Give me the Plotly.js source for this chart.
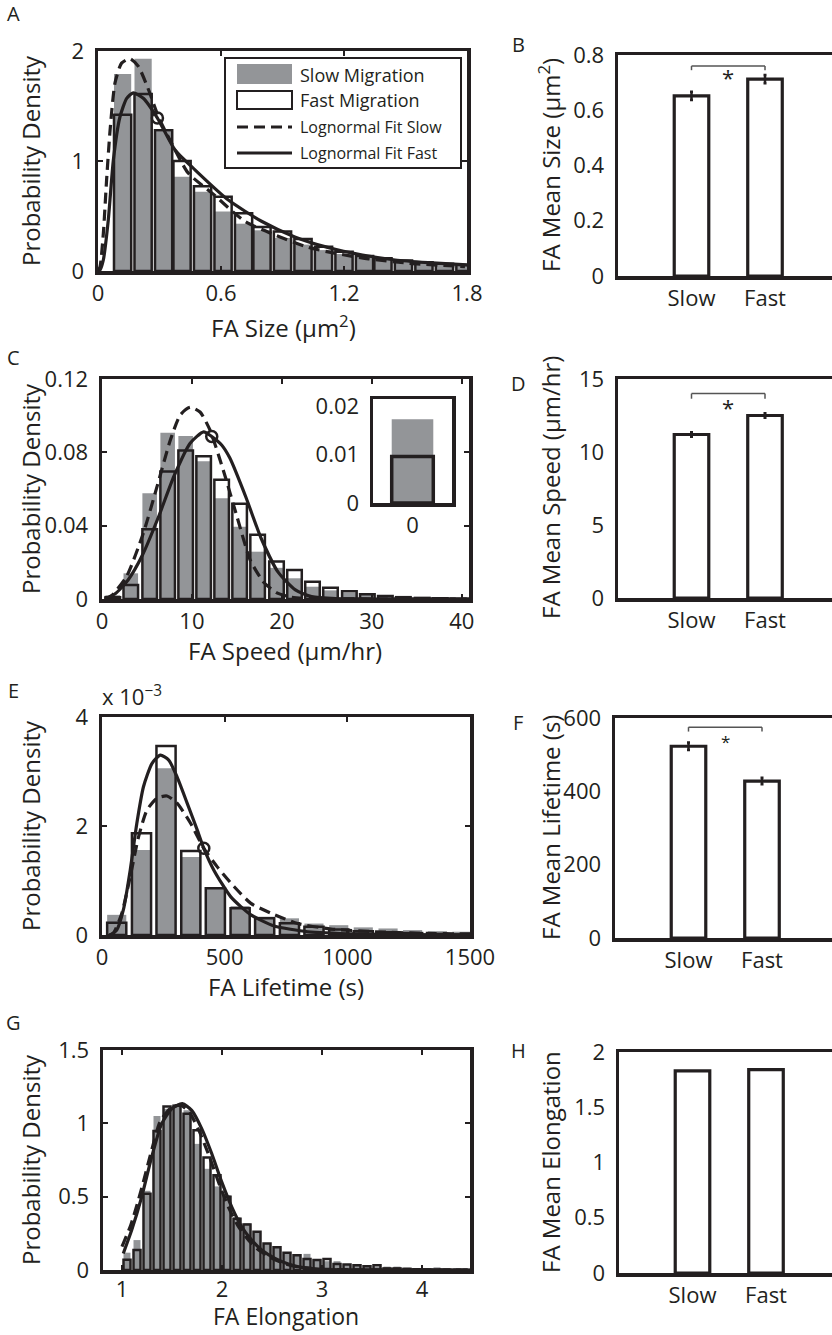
<!DOCTYPE html>
<html><head><meta charset="utf-8">
<script src="https://cdn.plot.ly/plotly-3.0.1.min.js"></script>
<style>html,body{margin:0;padding:0;background:#fff}</style>
</head><body><div id="chart" style="width:832px;height:1335px"></div>
<script>
// ---------- data ----------
const groups = ['Slow', 'Fast'];

// A: FA size histogram
const sizeBins = [0.12,0.22,0.32,0.41,0.51,0.61,0.71,0.80,0.90,1.00,1.10,1.20,1.30,1.39,1.49,1.59,1.69,1.79];
const sizeSlow = [1.79,1.93,1.27,0.857,0.72,0.54,0.43,0.37,0.30,0.24,0.19,0.155,0.13,0.11,0.09,0.075,0.065,0.055];
const sizeFast = [1.42,1.61,1.28,1.0,0.77,0.675,0.525,0.40,0.36,0.29,0.22,0.175,0.136,0.115,0.095,0.08,0.065,0.055];
const sizeFitSlowX = [0.0,0.01,0.026,0.042,0.059,0.083,0.115,0.156,0.197,0.246,0.295,0.351,0.44,0.555,0.717,0.847,1.026,1.16,1.32,1.52,1.79];
const sizeFitSlowY = [0,0.04,0.34,0.83,1.28,1.71,1.89,1.93,1.86,1.65,1.40,1.19,0.89,0.71,0.45,0.34,0.215,0.16,0.11,0.07,0.04];
const sizeFitFastX = [0.0,0.01,0.026,0.05,0.075,0.107,0.14,0.172,0.221,0.29,0.376,0.473,0.636,0.8,0.96,1.12,1.29,1.45,1.61,1.8];
const sizeFitFastY = [0,0.01,0.1,0.46,1.01,1.40,1.57,1.62,1.57,1.39,1.1,0.92,0.645,0.45,0.31,0.215,0.145,0.10,0.076,0.055];
const sizeMarkX = [0.29], sizeMarkY = [1.39];
// B
const sizeMean = [0.652, 0.713], sizeErr = [0.015, 0.015];

// C: FA speed histogram
const speedBins = [1.2,3.2,5.3,7.3,9.3,11.3,13.3,15.3,17.3,19.4,21.4,23.4,25.4,27.5,29.5,31.5,33.5,35.6,37.6,39.6];
const speedSlow = [0.002,0.014,0.0577,0.0907,0.0889,0.0752,0.0549,0.0394,0.0258,0.017,0.0113,0.0067,0.0047,0.0033,0.0022,0.0015,0.0009,0.0006,0.0004,0.0002];
const speedFast = [0.001,0.0076,0.038,0.0695,0.081,0.0778,0.065,0.052,0.035,0.0205,0.0158,0.0094,0.0062,0.0042,0.0026,0.0017,0.001,0.0006,0.0004,0.0002];
const speedFitSlowX = [0.3,0.9,2.7,4.6,6.1,7.6,8.7,9.8,10.9,12.0,13.5,15.0,16.5,18.0,19.4,21.0,23,30,40.8];
const speedFitSlowY = [0,0.001,0.012,0.036,0.061,0.0867,0.1004,0.1046,0.102,0.0922,0.070,0.045,0.021,0.009,0.0035,0.001,0.0002,0,0];
const speedFitFastX = [0.3,1.5,2.9,4.5,6.3,8.0,9.8,11.3,12.2,13.3,14.2,16.0,17.7,19.6,21.5,23.3,26,30,40.8];
const speedFitFastY = [0,0.003,0.0104,0.024,0.045,0.067,0.085,0.0912,0.0886,0.084,0.077,0.0555,0.033,0.0145,0.005,0.0013,0.0002,0,0];
const speedMarkX = [12.2], speedMarkY = [0.0886];
const insetBin = [0], insetSlow = [0.0173], insetFast = [0.0096];
// D
const speedMean = [11.2, 12.5], speedErr = [0.15, 0.15];

// E: FA lifetime histogram (values in units of 10^-3)
const lifeBins = [60,161,261,362,462,563,663,764,864,965,1065,1166,1266,1367,1467];
const lifeSlow = [0.37,1.56,3.06,1.43,0.87,0.53,0.336,0.306,0.21,0.18,0.14,0.12,0.09,0.07,0.06];
const lifeFast = [0.226,1.866,3.47,1.54,0.86,0.49,0.306,0.214,0.153,0.1,0.07,0.05,0.035,0.02,0.01];
const lifeFitSlowX = [30,46,81,115,149,183,224,265,306,361,415,470,538,607,689,798,934,1112,1316,1500];
const lifeFitSlowY = [0,0.03,0.4,1.07,1.80,2.29,2.51,2.55,2.42,2.05,1.59,1.25,0.89,0.58,0.40,0.21,0.11,0.06,0.03,0.02];
const lifeFitFastX = [33,60,87,115,142,169,204,238,272,306,347,388,415,456,525,607,702,839,1044,1500];
const lifeFitFastY = [0,0.09,0.46,1.19,2.05,2.72,3.15,3.30,3.21,2.90,2.42,1.93,1.59,1.19,0.70,0.37,0.165,0.06,0.02,0];
const lifeMarkX = [415], lifeMarkY = [1.59];
// F
const lifeMean = [523, 428], lifeErr = [10, 9];

// G: FA elongation histogram
const elongBins = [1.05,1.15,1.25,1.35,1.45,1.55,1.65,1.75,1.85,1.95,2.05,2.15,2.25,2.35,2.45,2.55,2.65,2.75,2.85,2.95,3.05,3.15,3.25,3.35,3.45,3.55,3.65,3.75,3.85,3.95,4.05,4.15,4.25,4.35,4.45];
const elongSlow = [0.118,0.204,0.54,1.05,1.10,1.13,1.09,0.86,0.69,0.57,0.51,0.36,0.32,0.26,0.18,0.15,0.117,0.10,0.11,0.065,0.06,0.06,0.04,0.032,0.025,0.022,0.023,0.023,0.016,0.011,0.011,0.018,0.011,0.011,0.01];
const elongFast = [0.07,0.136,0.52,0.948,1.115,1.12,1.066,0.952,0.767,0.646,0.50,0.35,0.31,0.26,0.18,0.155,0.117,0.10,0.075,0.068,0.075,0.041,0.038,0.032,0.025,0.032,0.011,0.011,0.008,0.005,0.004,0.003,0.003,0.002,0.002];
const elongFitSlowX = [1.0,1.09,1.19,1.29,1.38,1.48,1.58,1.67,1.77,1.87,1.97,2.07,2.17,2.27,2.37,2.5,2.63,2.77,2.97,3.4,4.46];
const elongFitSlowY = [0.16,0.31,0.54,0.80,1.01,1.10,1.125,1.08,0.95,0.78,0.59,0.42,0.29,0.20,0.135,0.08,0.043,0.02,0.006,0.001,0];
const elongFitFastX = [1.013,1.097,1.197,1.297,1.397,1.497,1.603,1.697,1.797,1.897,1.997,2.097,2.197,2.297,2.397,2.53,2.663,2.797,2.997,3.39,4.46];
const elongFitFastY = [0.113,0.272,0.499,0.771,0.998,1.10,1.134,1.088,0.964,0.794,0.601,0.431,0.295,0.204,0.136,0.079,0.041,0.018,0.005,0.001,0];
// H
const elongMean = [1.83, 1.84];

// ---------- styling helpers ----------
const W = 832, H = 1335;
const px = v => v / W, py = v => 1 - v / H;
const INK = '#231f20', GRAY = '#939598';
const FONT = '"Open Sans", sans-serif';
const TF = {family: FONT, size: 22, color: INK};
const TITLE = 24;

function histX(l, r, t, b, range, tickvals, ticktext, anchor, standoff) {
  return {domain: [px(l), px(r)], range, tickvals, ticktext, anchor,
    ticks: 'inside', ticklen: 5, tickwidth: 2, tickcolor: INK, ticklabelstandoff: standoff || 0,
    showline: true, linewidth: 3.5, linecolor: INK, mirror: 'ticks',
    zeroline: false, showgrid: false, tickfont: TF, fixedrange: true};
}
function histY(t, b, range, tickvals, ticktext, anchor) {
  return {domain: [py(b), py(t)], range, tickvals, ticktext, anchor,
    ticks: 'inside', ticklen: 5, tickwidth: 2, tickcolor: INK, ticklabelstandoff: 6,
    showline: true, linewidth: 3.5, linecolor: INK, mirror: 'ticks',
    zeroline: false, showgrid: false, tickfont: TF, fixedrange: true};
}
function barX(l, anchor) {
  return {domain: [px(l), 1], type: 'category', range: [-1, (W - l) / 73.5 - 1], anchor,
    ticks: '', showline: true, linewidth: 3.5, linecolor: INK, mirror: true,
    ticklabelstandoff: 0, zeroline: false, showgrid: false, tickfont: TF, fixedrange: true};
}
function barY(t, b, range, tickvals, ticktext, anchor) {
  return {domain: [py(b), py(t)], range, tickvals, ticktext, anchor,
    ticks: '', showline: true, linewidth: 3.5, linecolor: INK, mirror: false,
    ticklabelstandoff: 6, zeroline: false, showgrid: false, tickfont: TF, fixedrange: true};
}

function histTraces(ax, bins, slow, fast, w, fsX, fsY, ffX, ffY, mX, mY, lw) {
  const xa = 'x' + ax, ya = 'y' + ax;
  const tr = [
    {type: 'bar', x: bins, y: slow, width: w, marker: {color: GRAY, line: {width: 0}}, xaxis: xa, yaxis: ya, hoverinfo: 'skip'},
    {type: 'bar', x: bins, y: fast, width: w, marker: {color: 'rgba(0,0,0,0)', line: {color: INK, width: lw}}, xaxis: xa, yaxis: ya, hoverinfo: 'skip'},
    {type: 'scatter', mode: 'lines', x: fsX, y: fsY, line: {color: INK, width: 3.2, dash: '11px,6px', shape: 'spline', smoothing: 0.6}, xaxis: xa, yaxis: ya, hoverinfo: 'skip'},
    {type: 'scatter', mode: 'lines', x: ffX, y: ffY, line: {color: INK, width: 3.2, shape: 'spline', smoothing: 0.6}, xaxis: xa, yaxis: ya, hoverinfo: 'skip'}
  ];
  if (mX) tr.push({type: 'scatter', mode: 'markers', x: mX, y: mY, marker: {symbol: 'circle-open', size: 11, color: INK, line: {width: 2.5, color: INK}}, xaxis: xa, yaxis: ya, hoverinfo: 'skip'});
  return tr;
}
function meanTrace(ax, vals, err) {
  const t = {type: 'bar', x: groups, y: vals, width: 0.47, marker: {color: 'white', line: {color: INK, width: 3.2}},
    xaxis: 'x' + ax, yaxis: 'y' + ax, hoverinfo: 'skip'};
  if (err) t.error_y = {type: 'data', array: err, visible: true, color: INK, thickness: 2.5, width: 1.5};
  return t;
}

const traces = [].concat(
  histTraces('', sizeBins, sizeSlow, sizeFast, 0.084, sizeFitSlowX, sizeFitSlowY, sizeFitFastX, sizeFitFastY, sizeMarkX, sizeMarkY, 2.5),
  [meanTrace('2', sizeMean, sizeErr)],
  histTraces('3', speedBins, speedSlow, speedFast, 1.62, speedFitSlowX, speedFitSlowY, speedFitFastX, speedFitFastY, speedMarkX, speedMarkY, 2.5),
  [meanTrace('4', speedMean, speedErr)],
  histTraces('5', lifeBins, lifeSlow, lifeFast, 78, lifeFitSlowX, lifeFitSlowY, lifeFitFastX, lifeFitFastY, lifeMarkX, lifeMarkY, 2.5),
  [meanTrace('6', lifeMean, lifeErr)],
  histTraces('7', elongBins, elongSlow, elongFast, 0.07, elongFitSlowX, elongFitSlowY, elongFitFastX, elongFitFastY, null, null, 2.5),
  [meanTrace('8', elongMean, null)],
  [
    {type: 'bar', x: insetBin, y: insetSlow, width: 1.0, marker: {color: GRAY, line: {width: 0}}, xaxis: 'x9', yaxis: 'y9', hoverinfo: 'skip'},
    {type: 'bar', x: insetBin, y: insetFast, width: 1.0, marker: {color: 'rgba(0,0,0,0)', line: {color: INK, width: 3.5}}, xaxis: 'x9', yaxis: 'y9', hoverinfo: 'skip'}
  ]
);

// ---------- annotations ----------
function txt(text, x, y, size, opts) {
  return Object.assign({text, x: px(x), y: py(y), xref: 'paper', yref: 'paper', showarrow: false,
    font: {family: FONT, size: size, color: INK}, xanchor: 'center', yanchor: 'middle'}, opts || {});
}
const ann = [
  txt('A', 13, 14, 20), txt('B', 518, 45, 20), txt('C', 13, 357, 20), txt('D', 518, 383, 20),
  txt('E', 13, 690, 20), txt('F', 518, 722, 20), txt('G', 13, 1022, 20), txt('H', 518, 1050, 20),
  txt('Probability Density', 30, 161, TITLE, {textangle: -90}),
  txt('Probability Density', 30, 489, TITLE, {textangle: -90}),
  txt('Probability Density', 30, 826, TITLE, {textangle: -90}),
  txt('Probability Density', 30, 1160, TITLE, {textangle: -90}),
  txt('FA Size (μm<sup>2</sup>)', 283, 326, TITLE),
  txt('FA Speed (μm/hr)', 285, 650, TITLE),
  txt('FA Lifetime (s)', 286, 986, TITLE),
  txt('FA Elongation', 286, 1334, 23, {yanchor: 'bottom'}),
  txt('FA Mean Size (μm<sup>2</sup>)', 550, 165, TITLE, {textangle: -90}),
  txt('FA Mean Speed (μm/hr)', 550, 488, TITLE, {textangle: -90}),
  txt('FA Mean Lifetime (s)', 550, 828, TITLE, {textangle: -90}),
  txt('FA Mean Elongation', 550, 1162, TITLE, {textangle: -90}),
  txt('x 10<sup>−3</sup>', 100, 713, 22, {xanchor: 'left', yanchor: 'bottom'}),
  // legend texts
  txt('Slow Migration', 298, 75, 18, {xanchor: 'left'}),
  txt('Fast Migration', 298, 100, 18, {xanchor: 'left'}),
  txt('Lognormal Fit Slow', 298, 127, 16, {xanchor: 'left'}),
  txt('Lognormal Fit Fast', 298, 153, 16, {xanchor: 'left'}),
  // significance stars
  {text: '*', x: 0.5, y: 0.72, xref: 'x2', yref: 'y2', showarrow: false, font: {family: FONT, size: 22, color: INK}},
  {text: '*', x: 0.5, y: 13.1, xref: 'x4', yref: 'y4', showarrow: false, font: {family: FONT, size: 22, color: INK}},
  {text: '*', x: 0.5, y: 535, xref: 'x6', yref: 'y6', showarrow: false, font: {family: FONT, size: 17, color: INK}}
];

// ---------- shapes (legend + significance brackets) ----------
function prect(x0, y0, x1, y1, fill, lw) {
  return {type: 'rect', xref: 'paper', yref: 'paper', x0: px(x0), x1: px(x1), y0: py(y0), y1: py(y1),
    fillcolor: fill, line: {color: INK, width: lw}};
}
function pline(x0, y0, x1, y1, dash) {
  return {type: 'line', xref: 'paper', yref: 'paper', x0: px(x0), x1: px(x1), y0: py(y0), y1: py(y1),
    line: {color: INK, width: 3, dash: dash || 'solid'}};
}
function bracket(ax, yTop, yLow) {
  const base = {type: 'line', xref: 'x' + ax, yref: 'y' + ax, line: {color: '#555', width: 1.5}};
  return [
    Object.assign({}, base, {x0: 0, x1: 1, y0: yTop, y1: yTop}),
    Object.assign({}, base, {x0: 0, x1: 0, y0: yLow, y1: yTop}),
    Object.assign({}, base, {x0: 1, x1: 1, y0: yLow, y1: yTop})
  ];
}
const shapes = [
  prect(225, 58, 461, 168, 'white', 2),
  prect(237, 64, 292, 84, GRAY, 0),
  prect(237, 91, 292, 109, 'white', 2),
  pline(237, 127, 292, 127, '11px,6px'),
  pline(237, 153, 292, 153)
].concat(bracket('2', 0.76, 0.745), bracket('4', 14.0, 13.65), bracket('6', 575, 563));

// ---------- layout ----------
const layout = {
  width: W, height: H, margin: {l: 0, r: 0, t: 0, b: 0},
  paper_bgcolor: 'white', plot_bgcolor: 'rgba(0,0,0,0)',
  showlegend: false, barmode: 'overlay', font: {family: FONT, color: INK},
  xaxis:  histX(98, 467, 51, 271, [0, 1.8], [0, 0.6, 1.2, 1.8], ['0', '0.6', '1.2', '1.8'], 'y'),
  yaxis:  histY(51, 271, [0, 2], [0, 1, 2], ['0', '1', '2'], 'x'),
  xaxis2: barX(618, 'y2'),
  yaxis2: barY(55, 276, [0, 0.8], [0, 0.2, 0.4, 0.6, 0.8], ['0', '0.2', '0.4', '0.6', '0.8'], 'x2'),
  xaxis3: histX(102, 469, 379, 599, [0, 40.8], [0, 10, 20, 30, 40], ['0', '10', '20', '30', '40'], 'y3'),
  yaxis3: histY(379, 599, [0, 0.12], [0, 0.04, 0.08, 0.12], ['0', '0.04', '0.08', '0.12'], 'x3'),
  xaxis4: barX(618, 'y4'),
  yaxis4: barY(379, 598, [0, 15], [0, 5, 10, 15], ['0', '5', '10', '15'], 'x4'),
  xaxis5: histX(102, 470, 717, 935, [0, 1500], [0, 500, 1000, 1500], ['0', '500', '1000', '1500'], 'y5'),
  yaxis5: histY(717, 935, [0, 4], [0, 2, 4], ['0', '2', '4'], 'x5'),
  xaxis6: barX(615, 'y6'),
  yaxis6: barY(718, 938, [0, 600], [0, 200, 400, 600], ['0', '200', '400', '600'], 'x6'),
  xaxis7: histX(103, 470, 1050, 1270, [0.81, 4.48], [1, 2, 3, 4], ['1', '2', '3', '4'], 'y7', -3),
  yaxis7: histY(1050, 1270, [0, 1.5], [0, 0.5, 1, 1.5], ['0', '0.5', '1', '1.5'], 'x7'),
  xaxis8: barX(619, 'y8'),
  yaxis8: barY(1052, 1273, [0, 2], [0, 0.5, 1, 1.5, 2], ['0', '0.5', '1', '1.5', '2'], 'x8'),
  xaxis9: {domain: [px(373), px(452)], range: [-0.95, 0.95], tickvals: [0], ticktext: ['0'], anchor: 'y9',
    ticks: '', showline: true, linewidth: 3.5, linecolor: INK, mirror: true, ticklabelstandoff: 0,
    zeroline: false, showgrid: false, tickfont: TF, fixedrange: true},
  yaxis9: {domain: [py(503), py(399)], range: [0, 0.0215], tickvals: [0, 0.01, 0.02], ticktext: ['0', '0.01', '0.02'], anchor: 'x9',
    ticks: '', showline: true, linewidth: 3.5, linecolor: INK, mirror: true, ticklabelstandoff: 6,
    zeroline: false, showgrid: false, tickfont: TF, fixedrange: true},
  annotations: ann,
  shapes: shapes
};

Plotly.newPlot('chart', traces, layout, {displayModeBar: false, staticPlot: true});
</script></body></html>
